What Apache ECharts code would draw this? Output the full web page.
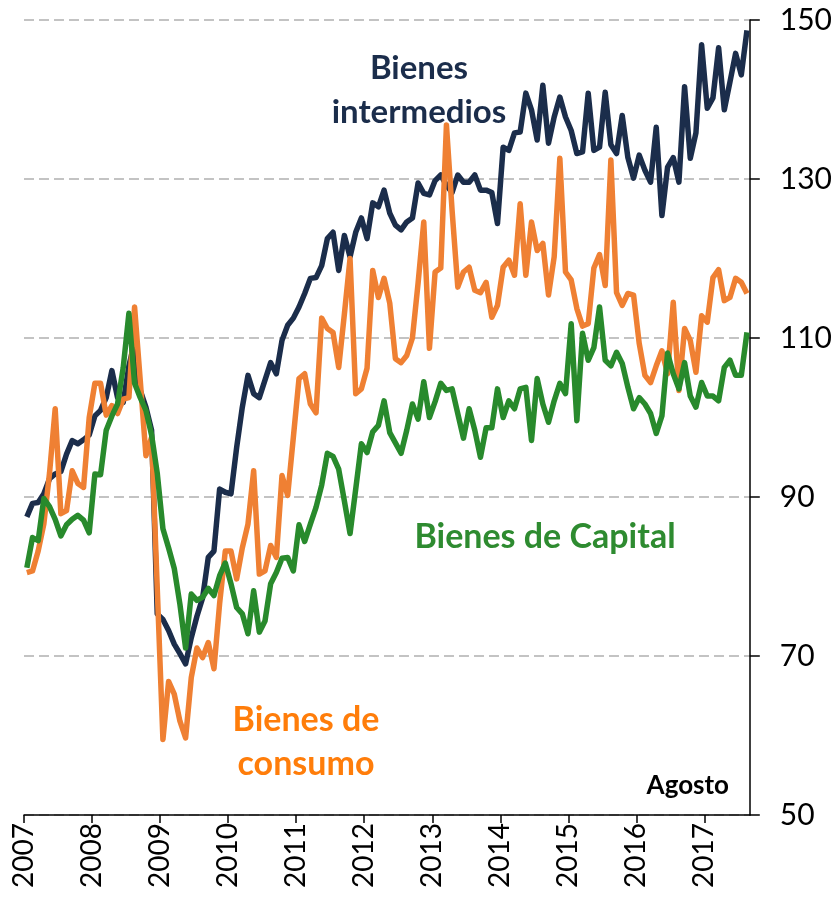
<!DOCTYPE html>
<html>
<head>
<meta charset="utf-8">
<script src="https://cdn.jsdelivr.net/npm/echarts@6/dist/echarts.min.js"></script>
<style>
  html, body { margin: 0; padding: 0; background: #fff; }
  #chart { width: 835px; height: 901px; }
</style>
</head>
<body>
<div id="chart"></div>
<script>
// years shown on the axis, data is monthly Jan 2007 - Aug 2017
const years = ["2007", "2008", "2009", "2010", "2011", "2012", "2013", "2014", "2015", "2016", "2017"];

// Bienes intermedios
const intermedios = [
  87.5, 89.2, 89.3, 90.4, 92.3, 92.9, 93.2, 95.4, 97.1, 96.7, 97.2, 97.8,
  100.2, 100.9, 102.5, 105.9, 102.5, 101.9, 106.5, 109.5, 103.4, 101.3, 98.4, 75.3,
  74.6, 73.2, 71.5, 70.3, 69.0, 72.3, 75.0, 77.3, 82.4, 83.2, 91.0, 90.6,
  90.4, 96.2, 101.3, 105.3, 103.0, 102.5, 104.7, 106.9, 105.5, 109.7, 111.6, 112.5,
  113.9, 115.6, 117.5, 117.6, 119.1, 122.5, 123.3, 118.5, 122.9, 120.2, 123.3, 125.1,
  122.5, 127.0, 126.5, 128.6, 125.7, 124.2, 123.6, 124.6, 125.1, 129.5, 128.2, 128.0,
  129.8, 130.5, 129.2, 128.3, 130.5, 129.6, 129.6, 130.5, 128.6, 128.6, 128.3, 124.4,
  134.0, 133.6, 135.8, 135.9, 140.8, 138.7, 134.9, 141.8, 134.5, 137.8, 140.3, 137.8,
  136.1, 133.2, 133.4, 140.8, 133.6, 134.0, 140.9, 134.3, 133.2, 138.0, 132.7, 130.1,
  133.0, 131.1, 129.6, 136.5, 125.4, 131.5, 132.7, 129.6, 141.6, 132.6, 135.8, 146.9,
  138.9, 140.2, 146.5, 138.7, 142.2, 145.8, 143.1, 148.7
];

// Bienes de consumo
const consumo = [
  80.5, 80.7, 83.2, 86.6, 93.0, 101.1, 87.9, 88.3, 93.3, 91.7, 91.2, 100.0,
  104.3, 104.3, 100.3, 101.5, 100.5, 102.3, 102.5, 113.9, 104.7, 95.2, 97.5, 78.5,
  59.5, 66.8, 65.2, 61.8, 59.7, 67.3, 71.0, 69.8, 71.7, 68.4, 76.6, 83.2,
  83.2, 79.7, 83.6, 86.6, 93.3, 80.3, 80.7, 83.9, 82.4, 92.7, 90.2, 97.5,
  104.9, 105.5, 101.7, 100.6, 112.5, 111.2, 110.7, 106.3, 113.0, 120.0, 103.0, 103.6,
  106.2, 118.5, 115.1, 117.5, 114.4, 107.4, 106.9, 107.8, 110.0, 116.9, 124.6, 108.7,
  118.3, 118.8, 136.8, 126.0, 116.4, 118.3, 118.9, 116.0, 115.7, 117.0, 112.6, 114.1,
  118.9, 119.8, 117.9, 126.9, 117.9, 124.6, 121.0, 121.9, 115.4, 120.2, 132.6, 118.3,
  117.3, 113.7, 111.5, 111.8, 118.8, 120.5, 116.6, 132.4, 115.7, 114.1, 115.6, 115.4,
  109.3, 105.3, 104.4, 106.5, 108.4, 105.5, 114.5, 103.4, 111.2, 109.7, 105.7, 112.8,
  112.0, 117.6, 118.6, 114.7, 115.1, 117.5, 117.0, 115.6
];

// Bienes de Capital
const capital = [
  81.1, 84.9, 84.5, 89.8, 88.8, 87.2, 85.1, 86.5, 87.2, 87.7, 87.1, 85.5,
  92.9, 92.8, 98.4, 100.2, 101.7, 106.3, 113.1, 104.3, 102.5, 100.9, 97.8, 93.0,
  86.0, 83.6, 81.0, 76.5, 71.0, 77.8, 77.0, 77.4, 78.5, 77.6, 80.1, 81.7,
  79.1, 76.1, 75.3, 72.8, 78.2, 73.0, 74.4, 79.1, 80.5, 82.3, 82.4, 80.7,
  86.5, 84.4, 86.6, 88.7, 91.5, 95.5, 95.1, 93.5, 89.5, 85.4, 91.0, 96.7,
  95.6, 98.2, 99.0, 102.1, 98.1, 96.8, 95.5, 98.4, 101.7, 99.8, 104.5, 100.0,
  102.0, 104.3, 103.4, 103.6, 100.5, 97.4, 101.1, 98.4, 95.0, 98.7, 98.7, 103.6,
  100.0, 102.1, 101.1, 103.6, 103.8, 97.1, 104.9, 101.7, 99.4, 102.1, 104.3, 103.0,
  111.8, 99.6, 110.6, 107.2, 108.8, 113.9, 107.2, 106.5, 108.2, 106.8, 103.8, 101.1,
  102.5, 101.7, 100.5, 98.0, 100.2, 108.1, 105.5, 103.6, 106.9, 102.7, 101.3, 104.4,
  102.7, 102.7, 102.1, 106.3, 107.2, 105.3, 105.3, 110.7
];

const NAVY = "#1b2d4b";
const ORANGE = "#ef8033";
const GREEN = "#288a2c";
const FONT = "Lato, 'Open Sans', sans-serif";

// one category per month, plus the month boundaries used for the year ticks
const months = [];
years.forEach((y) => {
  for (let m = 1; m <= 12; m++) months.push(y + "-" + String(m).padStart(2, "0"));
});
months.length = intermedios.length;
const bounds = months.concat(["end"]);

const chart = echarts.init(document.getElementById("chart"));

const lineSeries = (name, data, color) => ({
  name,
  type: "line",
  data,
  xAxisIndex: 0,
  showSymbol: false,
  symbol: "none",
  lineStyle: { color, width: 5.5, join: "round" },
  animation: false,
});

chart.setOption({
  animation: false,
  grid: { left: 24, right: 81, top: 20, bottom: 86 },
  xAxis: [
    {
      type: "category",
      data: months,
      boundaryGap: true,
      axisLine: { show: false },
      axisTick: { show: false },
      axisLabel: { show: false },
      splitLine: { show: false },
    },
    {
      type: "category",
      data: bounds,
      boundaryGap: false,
      position: "bottom",
      axisLine: { show: true, lineStyle: { color: "#000", width: 1.5 } },
      axisTick: {
        show: true,
        length: 8,
        lineStyle: { color: "#000", width: 1.5 },
        interval: (i) => i % 12 === 0,
      },
      axisLabel: {
        interval: (i) => i % 12 === 0,
        rotate: 90,
        margin: 8,
        fontFamily: FONT,
        fontSize: 28,
        color: "#000",
        formatter: (v) => v.slice(0, 4),
      },
      splitLine: { show: false },
    },
  ],
  yAxis: {
    type: "value",
    position: "right",
    min: 50,
    max: 150,
    interval: 20,
    axisLine: { show: true, lineStyle: { color: "#000", width: 1.5 } },
    axisTick: { show: true, length: 10, lineStyle: { color: "#000", width: 1.5 } },
    axisLabel: { margin: 30, fontFamily: FONT, fontSize: 30, color: "#000" },
    splitLine: { show: true, lineStyle: { color: "#b0b0b0", width: 1.5, type: [10, 5] } },
  },
  series: [
    lineSeries("Bienes intermedios", intermedios, NAVY),
    lineSeries("Bienes de consumo", consumo, ORANGE),
    lineSeries("Bienes de Capital", capital, GREEN),
  ],
  graphic: [
    {
      type: "text", x: 419, y: 90, silent: true,
      style: { text: "Bienes\nintermedios", fill: NAVY, font: "bold 33px " + FONT,
        align: "center", verticalAlign: "middle", lineHeight: 44 },
    },
    {
      type: "text", x: 545, y: 537, silent: true,
      style: { text: "Bienes de Capital", fill: "#2e8b30", font: "bold 34px " + FONT,
        align: "center", verticalAlign: "middle" },
    },
    {
      type: "text", x: 306, y: 742, silent: true,
      style: { text: "Bienes de\nconsumo", fill: "#ff7d0a", font: "bold 34px " + FONT,
        align: "center", verticalAlign: "middle", lineHeight: 44 },
    },
    {
      type: "text", x: 729, y: 786, silent: true,
      style: { text: "Agosto", fill: "#000", font: "bold 26px " + FONT,
        align: "right", verticalAlign: "middle" },
    },
  ],
});
</script>
</body>
</html>
